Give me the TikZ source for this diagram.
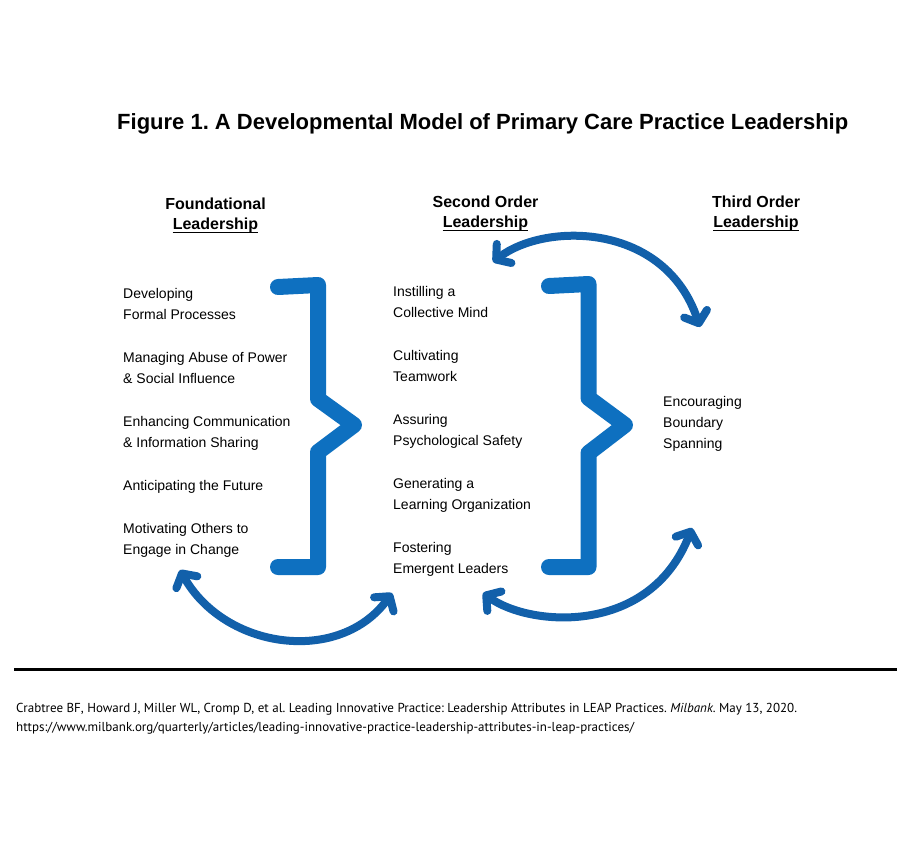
\documentclass[tikz,border=0pt]{standalone}
\usepackage{fontspec}
\setmainfont{Liberation Sans}
\newfontfamily\citefont{PT Sans}
\usetikzlibrary{arrows.meta}
\definecolor{brk}{RGB}{14,112,192}
\definecolor{arw}{RGB}{18,96,170}
\frenchspacing
\begin{document}
\begin{tikzpicture}[x=1pt,y=-1pt,
  item/.style={anchor=base west,inner sep=0pt,font=\fontsize{14}{17}\selectfont},
  head/.style={anchor=base,inner sep=0pt,font=\fontsize{16}{19}\selectfont\bfseries},
  cite/.style={anchor=base west,inner sep=0pt,font=\citefont\fontsize{13}{16}\selectfont},
  bracket/.style={draw=brk,line width=16pt,line join=round,line cap=round},
  curved/.style={draw=arw,line width=8pt,line cap=round,
     {Straight Barb[length=10pt,width=24pt,round]}-{Straight Barb[length=10pt,width=24pt,round]}},
  uline/.style={draw=black,line width=1.3pt}]
\useasboundingbox (0,0) rectangle (897,844);
\fill[white] (0,0) rectangle (897,844);

% title
\node[anchor=base west,inner sep=0pt,font=\fontsize{22}{26}\selectfont\bfseries] (title) at (117,129.5)
  {Figure 1. A Developmental Model of Primary Care Practice Leadership};

% headers
\node[head] (h1a) at (215.5,209) {Foundational};
\node[head] (h1b) at (215.5,229.5) {Leadership};
\node[head] (h2a) at (485.5,207) {Second Order};
\node[head] (h2b) at (485.5,227.5) {Leadership};
\node[head] (h3a) at (756,207) {Third Order};
\node[head] (h3b) at (756,227.5) {Leadership};
\foreach \n in {h1b,h2b,h3b}{
  \draw[uline] ([yshift=-2.8pt]\n.base west) -- ([yshift=-2.8pt]\n.base east);
}

% foundational items
\node[item] (f1a) at (123,298) {Developing};
\node[item] (f1b) at (123,319) {Formal Processes};
\node[item] (f2a) at (123,362) {Managing Abuse of Power};
\node[item] (f2b) at (123,383) {\& Social Influence};
\node[item] (f3a) at (123,426) {Enhancing Communication};
\node[item] (f3b) at (123,447) {\& Information Sharing};
\node[item] (f4a) at (123,490) {Anticipating the Future};
\node[item] (f5a) at (123,533) {Motivating Others to};
\node[item] (f5b) at (123,554) {Engage in Change};

% second order items
\node[item] (s1a) at (393,296) {Instilling a};
\node[item] (s1b) at (393,317) {Collective Mind};
\node[item] (s2a) at (393,360) {Cultivating};
\node[item] (s2b) at (393,381) {Teamwork};
\node[item] (s3a) at (393,424) {Assuring};
\node[item] (s3b) at (393,445) {Psychological Safety};
\node[item] (s4a) at (393,488) {Generating a};
\node[item] (s4b) at (393,509) {Learning Organization};
\node[item] (s5a) at (393,552) {Fostering};
\node[item] (s5b) at (393,573) {Emergent Leaders};

% third order items
\node[item] (t1a) at (663,406) {Encouraging};
\node[item] (t1b) at (663,427) {Boundary};
\node[item] (t1c) at (663,448) {Spanning};

% brackets
\draw[bracket] (278,287) -- (318,285) -- (318,399) -- (354,425) -- (318,452) -- (318,567) -- (278,567);
\draw[bracket] (549,286) -- (588.5,284) -- (588.5,398) -- (625,425) -- (588.5,453) -- (588.5,567) -- (549,567);

% curved arrows
\coordinate (a1s) at (180,570);
\coordinate (a1e) at (392,593);
\coordinate (a2s) at (493,262);
\coordinate (a2e) at (700,327);
\coordinate (a3s) at (483,593);
\coordinate (a3e) at (692,528);
\draw[curved] (a1s) .. controls (225,650) and (340,665) .. (a1e);
\draw[curved] (a2s) .. controls (545,222) and (665,222) .. (a2e);
\draw[curved] (a3s) .. controls (530,627) and (650,636) .. (a3e);

% separator and citation
\coordinate (ls) at (14,669.5);
\coordinate (le) at (897,669.5);
\draw[line width=2.5pt] (ls) -- (le);
\node[cite] (c1) at (16,712.5) {Crabtree BF, Howard J, Miller WL, Cromp D, et al. Leading Innovative Practice: Leadership Attributes in LEAP Practices. \emph{Milbank}. May 13, 2020.};
\node[cite] (c2) at (16,731) {https://www.milbank.org/quarterly/articles/leading-innovative-practice-leadership-attributes-in-leap-practices/};
\end{tikzpicture}
\end{document}
